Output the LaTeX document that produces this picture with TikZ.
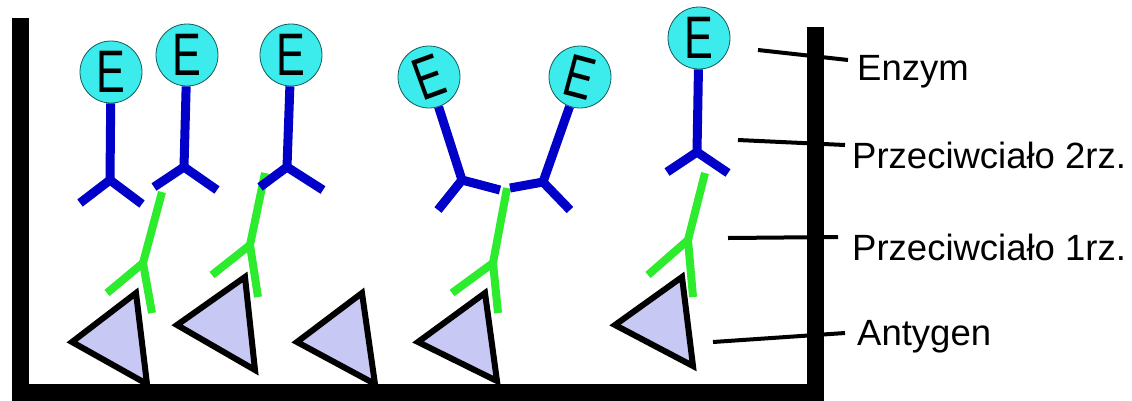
\documentclass[tikz,border=0pt]{standalone}
\usepackage{fontspec}
\setmainfont{Liberation Sans}
\usepackage{tikz}
\definecolor{enzcyan}{RGB}{60,236,236}
\definecolor{enzline}{RGB}{20,90,90}
\definecolor{abblue}{RGB}{0,0,200}
\definecolor{abgreen}{RGB}{45,235,45}
\definecolor{aglav}{RGB}{200,200,245}
\tikzset{
  enz/.style={circle, draw=enzline, line width=0.8pt, fill=enzcyan,
    minimum size=62pt, inner sep=0pt, font=\fontsize{60}{60}\selectfont},
  abtwo/.style={draw=abblue, line width=9pt, line join=round},
  abone/.style={draw=abgreen, line width=8pt, line join=round},
  antigen/.style={draw=black, fill=aglav, line width=6pt, line join=miter},
  wall/.style={line width=17pt, line join=miter},
  leader/.style={line width=4pt},
  lbl/.style={anchor=base west, inner sep=0pt, font=\fontsize{36.5}{40}\selectfont}
}

\begin{document}
\begin{tikzpicture}[x=1pt,y=-1pt]
      \useasboundingbox (0,0) rectangle (1132,400);
      % the well
      \draw[wall] (20,18) -- (20,392) -- (815,392) -- (815,27);
      % labels and their leaders
      \node[lbl] (enzym) at (857,80) {Enzym};
      \node[lbl] (ab2) at (852,168) {Przeciwciało 2rz.};
      \node[lbl] (ab1) at (852,260) {Przeciwciało 1rz.};
      \node[lbl] (ag) at (857,345) {Antygen};
      \coordinate (l1) at (758,50);  \coordinate (t1) at (848,60);
      \coordinate (l2) at (738,140); \coordinate (t2) at (845,145);
      \coordinate (l3) at (728,238); \coordinate (t3) at (838,237);
      \coordinate (l4) at (713,342); \coordinate (t4) at (845,333);
      \draw[leader] (l1) -- (t1);
      \draw[leader] (l2) -- (t2);
      \draw[leader] (l3) -- (t3);
      \draw[leader] (l4) -- (t4);
      % antigens on the bottom
      \draw[antigen] (72,342) -- (136,293) -- (147,384) -- cycle;
      \draw[antigen] (177,325) -- (245,277) -- (255,370) -- cycle;
      \draw[antigen] (297,342) -- (362,293) -- (375,384) -- cycle;
      \draw[antigen] (418,342) -- (485,293) -- (497,381) -- cycle;
      \draw[antigen] (615,325) -- (682,277) -- (693,366) -- cycle;
      % primary antibodies
      \draw[abone] (162,192) -- (143,263) -- (152,313);
      \draw[abone] (107,293) -- (143,263);
      \draw[abone] (265,173) -- (250,245) -- (258,297);
      \draw[abone] (212,275) -- (250,245);
      \draw[abone] (507,188) -- (493,263) -- (498,313);
      \draw[abone] (452,293) -- (493,263);
      \draw[abone] (705,173) -- (688,240) -- (693,297);
      \draw[abone] (648,275) -- (688,240);
      % enzymes
      \node[enz] (e1) at (111,72) {\scalebox{0.72}[1]{E}};
      \node[enz] (e2) at (187,55) {\scalebox{0.72}[1]{E}};
      \node[enz] (e3) at (291,55) {\scalebox{0.72}[1]{E}};
      \node[enz, rotate=20] (e4) at (429,77) {\scalebox{0.72}[1]{E}};
      \node[enz, rotate=-15] (e5) at (580,77) {\scalebox{0.72}[1]{E}};
      \node[enz] (e6) at (699,38) {\scalebox{0.72}[1]{E}};
      % secondary antibodies
      \coordinate (f1) at (110,180);
      \coordinate (f2) at (184,167);
      \coordinate (f3) at (287,167);
      \coordinate (f4) at (462,180);
      \coordinate (f5) at (543,182);
      \coordinate (f6) at (697,152);
      \draw[abtwo] (e1) -- (f1);
      \draw[abtwo] (80,203) -- (f1) -- (142,204);
      \draw[abtwo] (e2) -- (f2);
      \draw[abtwo] (154,187) -- (f2) -- (217,190);
      \draw[abtwo] (e3) -- (f3);
      \draw[abtwo] (260,187) -- (f3) -- (323,190);
      \draw[abtwo] (e4) -- (f4);
      \draw[abtwo] (438,210) -- (f4) -- (500,190);
      \draw[abtwo] (e5) -- (f5);
      \draw[abtwo] (510,188) -- (f5) -- (570,210);
      \draw[abtwo] (e6) -- (f6);
      \draw[abtwo] (667,172) -- (f6) -- (728,173);
\end{tikzpicture}
\end{document}
